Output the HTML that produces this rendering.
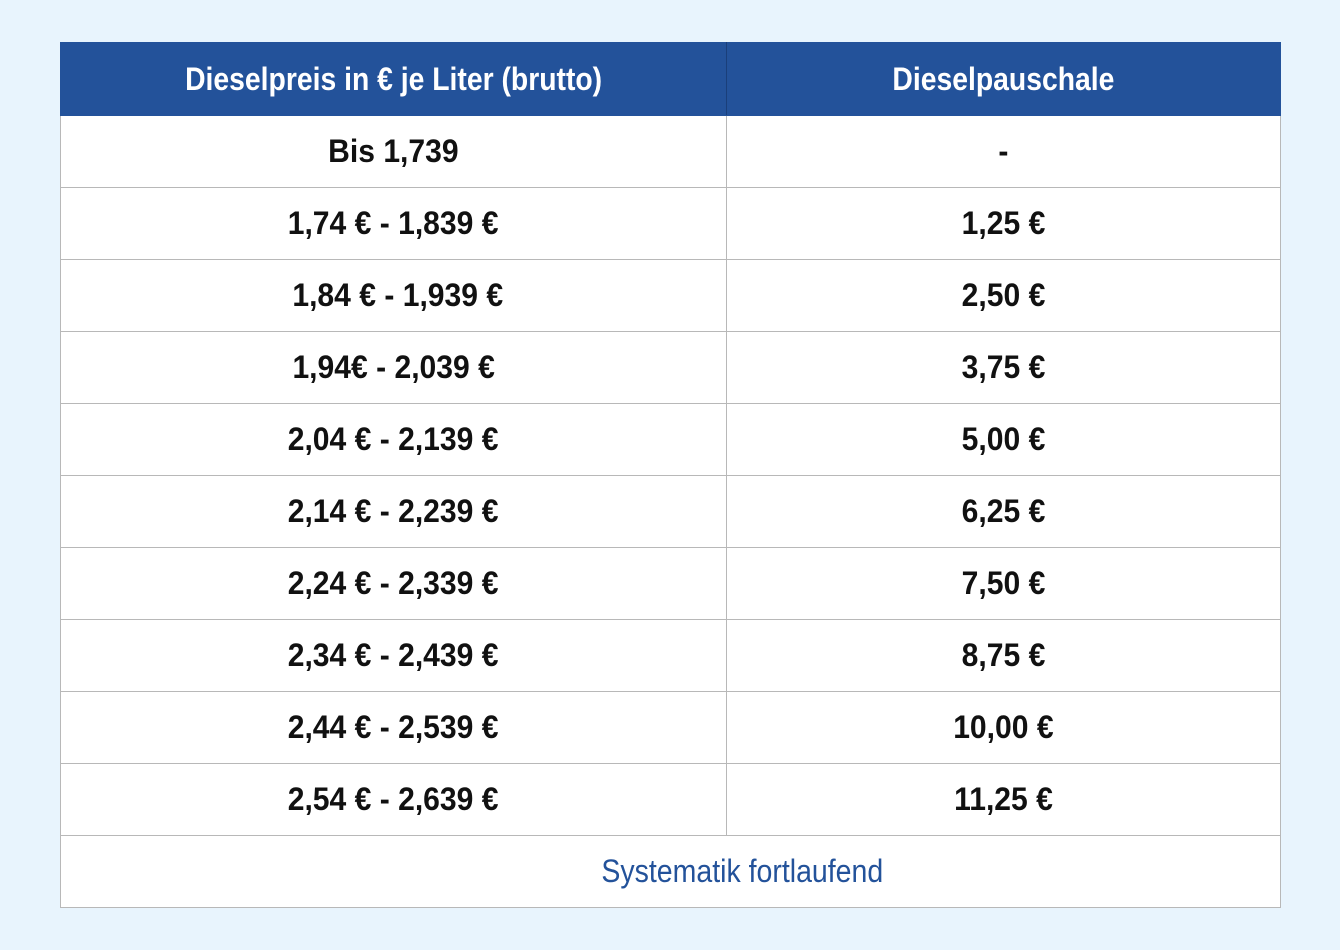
<!DOCTYPE html>
<html><head><meta charset="utf-8"><style>
html,body{margin:0;padding:0;}
body{width:1340px;height:950px;background:#e8f4fd;position:relative;overflow:hidden;font-family:"Liberation Sans",sans-serif;}
table{position:absolute;left:60px;top:42px;width:1221px;border-collapse:collapse;table-layout:fixed;}
td,th{height:71px;border:1px solid #b8b8b8;text-align:center;font-weight:bold;font-size:32px;color:#111;background:#fff;padding:0;white-space:nowrap;}
th{background:#23529a;color:#fff;border-color:#23529a;height:72px;}
th:first-child{border-right:1px solid #1a3f7a;}
span{display:inline-block;transform:scaleX(0.94);}
th span{transform:scaleX(0.885);}
td.f{color:#23529a;font-weight:normal;padding-left:144px;}
td.f span{transform:scaleX(0.89);}
</style></head><body>
<table>
<colgroup><col style="width:666px"><col></colgroup>
<tr><th><span>Dieselpreis in € je Liter (brutto)</span></th><th><span>Dieselpauschale</span></th></tr>
<tr><td><span>Bis 1,739</span></td><td><span>-</span></td></tr>
<tr><td><span>1,74 € - 1,839 €</span></td><td><span>1,25 €</span></td></tr>
<tr><td><span>&nbsp;1,84 € - 1,939 €</span></td><td><span>2,50 €</span></td></tr>
<tr><td><span>1,94€ - 2,039 €</span></td><td><span>3,75 €</span></td></tr>
<tr><td><span>2,04 € - 2,139 €</span></td><td><span>5,00 €</span></td></tr>
<tr><td><span>2,14 € - 2,239 €</span></td><td><span>6,25 €</span></td></tr>
<tr><td><span>2,24 € - 2,339 €</span></td><td><span>7,50 €</span></td></tr>
<tr><td><span>2,34 € - 2,439 €</span></td><td><span>8,75 €</span></td></tr>
<tr><td><span>2,44 € - 2,539 €</span></td><td><span>10,00 €</span></td></tr>
<tr><td><span>2,54 € - 2,639 €</span></td><td><span>11,25 €</span></td></tr>
<tr><td colspan="2" class="f"><span>Systematik fortlaufend</span></td></tr>
</table>
</body></html>
